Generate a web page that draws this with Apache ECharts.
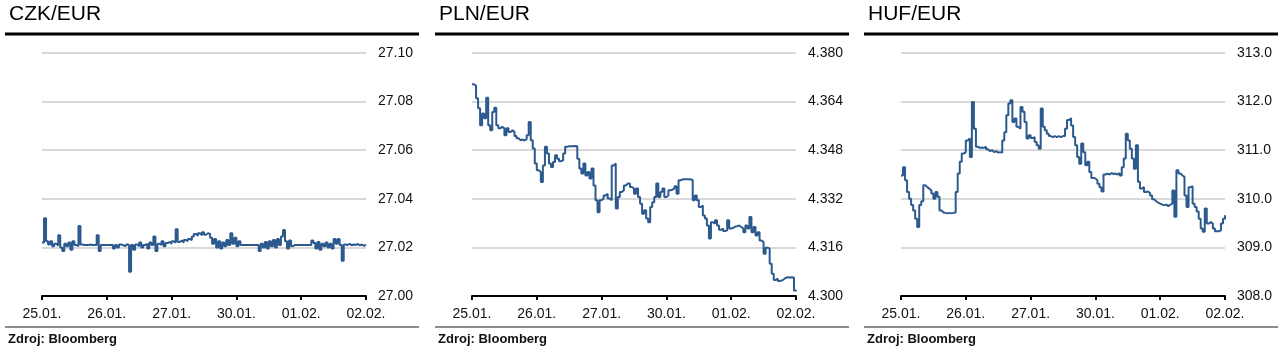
<!DOCTYPE html>
<html>
<head>
<meta charset="utf-8">
<script src="https://cdn.jsdelivr.net/npm/echarts@6/dist/echarts.min.js"></script>
<style>
html,body{margin:0;padding:0;background:#fff;}
#chart{width:1288px;height:362px;}
</style>
</head>
<body>
<div id="chart"></div>
<script>
const DATES = ['25.01.', '26.01.', '27.01.', '30.01.', '01.02.', '02.02.'];
const TITLES = ['CZK/EUR', 'PLN/EUR', 'HUF/EUR'];
const SOURCE = 'Zdroj: Bloomberg';

const CZK = [
27.0220,27.0320,27.0225,27.0212,27.0225,27.0205,27.0215,27.0208,27.0250,27.0200,
27.0185,27.0215,27.0205,27.0220,27.0190,27.0225,27.0210,27.0205,27.0288,27.0212,
27.0210,27.0210,27.0210,27.0212,27.0210,27.0210,27.0210,27.0250,27.0185,27.0210,
27.0210,27.0210,27.0210,27.0210,27.0210,27.0195,27.0210,27.0200,27.0212,27.0210,
27.0205,27.0213,27.0210,27.0100,27.0210,27.0190,27.0212,27.0205,27.0220,27.0200,
27.0210,27.0215,27.0195,27.0220,27.0210,27.0245,27.0185,27.0215,27.0210,27.0225,
27.0205,27.0218,27.0222,27.0215,27.0225,27.0220,27.0275,27.0222,27.0228,27.0220,
27.0230,27.0226,27.0235,27.0230,27.0245,27.0255,27.0248,27.0258,27.0250,27.0262,
27.0252,27.0258,27.0255,27.0240,27.0215,27.0235,27.0200,27.0225,27.0195,27.0220,
27.0205,27.0230,27.0210,27.0258,27.0215,27.0240,27.0205,27.0225,27.0210,27.0210,
27.0210,27.0210,27.0210,27.0210,27.0210,27.0210,27.0210,27.0185,27.0215,27.0200,
27.0222,27.0195,27.0225,27.0205,27.0230,27.0200,27.0235,27.0210,27.0245,27.0272,
27.0225,27.0195,27.0228,27.0205,27.0210,27.0210,27.0210,27.0210,27.0210,27.0210,
27.0210,27.0210,27.0210,27.0228,27.0218,27.0195,27.0222,27.0190,27.0215,27.0205,
27.0220,27.0200,27.0215,27.0195,27.0235,27.0215,27.0235,27.0210,27.0145,27.0212,
27.0210,27.0215,27.0208,27.0212,27.0210,27.0214,27.0208,27.0212,27.0206,27.0212,
27.0210
];

const PLN = [
4.3697,4.3692,4.3651,4.3618,4.3562,4.3601,4.3585,4.3653,4.3562,4.3546,
4.3606,4.3620,4.3562,4.3552,4.3557,4.3552,4.3529,4.3552,4.3540,4.3546,
4.3540,4.3527,4.3519,4.3513,4.3515,4.3512,4.3516,4.3529,4.3573,4.3513,
4.3486,4.3436,4.3414,4.3408,4.3375,4.3430,4.3491,4.3469,4.3436,4.3425,
4.3441,4.3463,4.3452,4.3444,4.3447,4.3469,4.3491,4.3493,4.3493,4.3493,
4.3494,4.3493,4.3452,4.3420,4.3403,4.3436,4.3397,4.3408,4.3387,4.3420,
4.3364,4.3315,4.3276,4.3315,4.3321,4.3331,4.3337,4.3321,4.3315,4.3430,
4.3436,4.3288,4.3326,4.3342,4.3348,4.3364,4.3370,4.3370,4.3359,4.3354,
4.3337,4.3354,4.3326,4.3304,4.3271,4.3282,4.3255,4.3243,4.3293,4.3309,
4.3326,4.3370,4.3326,4.3342,4.3354,4.3326,4.3331,4.3348,4.3350,4.3354,
4.3361,4.3337,4.3381,4.3384,4.3384,4.3384,4.3384,4.3384,4.3381,4.3315,
4.3331,4.3315,4.3293,4.3298,4.3265,4.3255,4.3232,4.3189,4.3243,4.3238,
4.3249,4.3232,4.3218,4.3222,4.3214,4.3216,4.3249,4.3222,4.3224,4.3229,
4.3230,4.3232,4.3227,4.3222,4.3210,4.3232,4.3222,4.3260,4.3210,4.3227,
4.3199,4.3210,4.3183,4.3177,4.3139,4.3159,4.3156,4.3106,4.3073,4.3053,
4.3057,4.3049,4.3051,4.3055,4.3060,4.3062,4.3061,4.3062,4.3060,4.3018,
4.3015
];

const HUF = [
310.48,310.65,310.38,310.14,310.00,309.87,309.76,309.59,309.42,309.87,
309.95,310.28,310.24,310.21,310.17,310.11,310.00,310.14,310.04,309.76,
309.72,309.71,309.70,309.71,309.70,309.71,309.72,310.14,310.52,310.76,
310.93,310.96,311.20,311.24,310.86,311.99,311.44,311.07,311.05,311.05,
311.05,311.07,311.02,310.98,311.00,310.96,310.98,310.95,310.96,310.95,
311.20,311.37,311.72,311.96,312.03,311.58,311.65,311.48,311.44,311.89,
311.79,311.58,311.24,311.31,311.25,311.27,311.17,311.10,311.03,311.86,
311.48,311.41,311.34,311.29,311.27,311.29,311.27,311.29,311.27,311.29,
311.29,311.44,311.62,311.66,311.51,311.27,311.10,310.86,310.72,311.14,
310.96,310.69,310.76,310.55,310.43,310.42,310.38,310.31,310.24,310.15,
310.50,310.52,310.50,310.53,310.51,310.52,310.50,310.53,310.48,310.65,
310.83,311.34,311.20,311.03,310.83,310.62,311.10,310.35,310.21,310.24,
310.14,310.15,310.12,310.07,309.99,309.95,309.92,309.90,309.88,309.87,
309.88,309.85,309.88,309.90,310.17,309.63,310.59,310.52,310.48,310.45,
310.07,309.83,310.24,310.26,309.90,309.83,309.74,309.59,309.39,309.32,
309.80,309.49,309.52,309.49,309.39,309.33,309.33,309.35,309.49,309.59,
309.66
];

const Y_MIN = [27.00, 4.300, 308.0];
const Y_MAX = [27.10, 4.380, 313.0];
const Y_STEP = [0.02, 0.016, 1.0];
const Y_DEC = [2, 3, 1];

const SERIES = [CZK, PLN, HUF];
const PANEL_X = [0, 430, 859];
const FONT = '"Liberation Sans", Arial, sans-serif';
const LINE_COLOR = '#2C5A8E';

const chart = echarts.init(document.getElementById('chart'), null, {renderer: 'canvas'});

const grids = [], xAxes = [], yAxes = [], series = [], titles = [], graphics = [];
SERIES.forEach((vals, k) => {
  const px = PANEL_X[k];
  const n = vals.length - 1;
  grids.push({left: px + 42, top: 53, width: 324, height: 243, containLabel: false});
  xAxes.push({
    type: 'value', gridIndex: k, min: 0, max: n, interval: n / 5,
    axisLine: {show: true, lineStyle: {color: '#000', width: 2}},
    axisTick: {show: true, length: 4, lineStyle: {color: '#000', width: 2}},
    splitLine: {show: false},
    axisLabel: {
      formatter: v => DATES[Math.round(v / (n / 5))],
      fontSize: 14, color: '#111', margin: 11, fontFamily: FONT
    }
  });
  yAxes.push({
    type: 'value', gridIndex: k, position: 'right',
    min: Y_MIN[k], max: Y_MAX[k], interval: Y_STEP[k],
    axisLine: {show: false}, axisTick: {show: false},
    splitLine: {show: true, lineStyle: {color: '#d9d9d9', width: 2}},
    axisLabel: {
      formatter: v => v.toFixed(Y_DEC[k]),
      fontSize: 14, color: '#111', margin: 12, fontFamily: FONT
    }
  });
  series.push({
    type: 'line', xAxisIndex: k, yAxisIndex: k,
    data: vals.map((v, i) => [i, v]),
    step: 'end',
    showSymbol: false, symbol: 'none',
    lineStyle: {color: LINE_COLOR, width: 2},
    animation: false
  });
  titles.push({
    text: TITLES[k], left: px + 9, top: 4, padding: 0,
    textStyle: {fontSize: 21, fontWeight: 'normal', color: '#000', fontFamily: FONT}
  });
  graphics.push({type: 'rect', shape: {x: px + 5, y: 32.5, width: 414, height: 3}, style: {fill: '#000'}, silent: true});
  graphics.push({type: 'rect', shape: {x: px + 5, y: 326, width: 414, height: 2}, style: {fill: '#8c8c8c'}, silent: true});
  graphics.push({type: 'text', x: px + 8, y: 333, style: {text: SOURCE, font: 'bold 13px ' + FONT, fill: '#111'}, silent: true});
});

chart.setOption({
  animation: false,
  backgroundColor: '#fff',
  title: titles,
  grid: grids,
  xAxis: xAxes,
  yAxis: yAxes,
  series: series,
  graphic: graphics
});
</script>
</body>
</html>
